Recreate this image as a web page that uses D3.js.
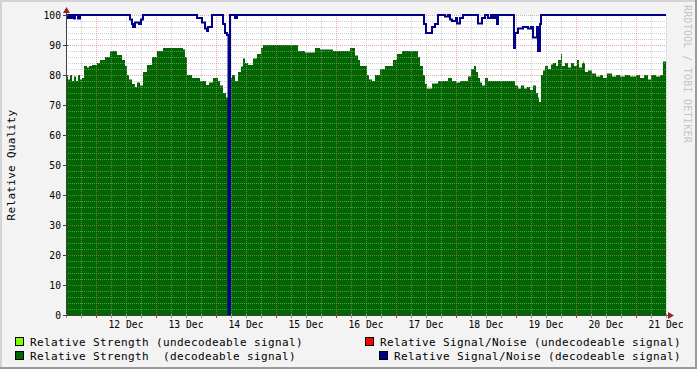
<!DOCTYPE html>
<html><head><meta charset="utf-8">
<script src="https://cdn.jsdelivr.net/npm/d3@7"></script>
<style>
html,body{margin:0;padding:0;background:#f3f3f3;}
svg{display:block;}
text{font-family:"DejaVu Sans Mono",monospace;}
</style></head>
<body>
<script>
// ---- data (hours since start of window, 11 Dec 12:00) ----
const startTime = Date.UTC(2008, 11, 11, 12, 0);
const windowHours = 240;
const dayLabels = ["12 Dec","13 Dec","14 Dec","15 Dec","16 Dec","17 Dec","18 Dec","19 Dec","20 Dec","21 Dec"];
const yTicks = [0,10,20,30,40,50,60,70,80,90,100];

// Relative Strength (decodeable signal)
const strengthHours = [0,0.8,1.6,2.4,3.2,4.0,4.8,5.6,6.4,7.2,8.4,9.2,10.4,12.4,13.6,15.6,17.6,20.4,22.4,23.6,24.4,25.2,26.4,27.6,28.4,29.6,30.8,32.4,34.4,36.4,38.8,46.8,47.6,48.4,50.4,53.6,56,57.2,58.8,60.8,61.6,62.8,64,64.8,65.6,66.4,67.6,68.8,70,70.8,71.6,72.8,74.8,76.4,78,78.8,92.8,95.6,99.6,101.6,106.8,113.6,115.6,116.8,117.6,120.4,121.2,122.4,123.6,125.6,127.6,130.8,132.4,134.4,140.8,141.6,142.8,143.6,144.4,146.4,148.8,152.8,154.4,156,157.6,160.8,162,163.2,164,164.8,165.6,166.4,167.6,168.8,179.6,180.8,182,183.2,184.4,185.6,186.8,188,188.8,189.2,190,190.8,191.6,192.8,194,194.8,196,196.8,198,198.4,199.6,200.8,202,203.2,204.4,205.2,206.4,207.6,208.8,210.4,212,213.6,214.8,216.4,218.4,220,221.6,223.6,225.6,228,229.6,231.2,232.8,234,236,237.6,238.8];
const strengthValues = [79.5,78.5,80,78,79.5,78,80,78.5,79,83,82.5,83,83.3,84,85,86,88,86.7,85,83,80,78.5,77,76,77.5,76.5,81,83.3,86,88,89,88.5,86,80,79,78,76.7,77.5,79,78,76.5,74,72.5,73,79,80,78,81,82.8,85.5,84,83.3,85.5,87,89,90,88,87.5,89,88.5,88,89,86.5,85,83,80,78.5,78,80,82,83,85,87,88,86,83,80,77,75.5,77.2,78,79,78,77.5,78,79.5,82,83,81,79,77.5,76.5,79,78,76.5,75.5,76.5,75.5,76,75,76.5,74,72.5,71,80,81.5,83,82,83.5,84,83,85,87,83,84,82.5,84,83,85,82.5,84,81,81.5,80.5,79.5,80,79,80.5,79.5,80,79.5,80,79.5,80,79,80,78.5,80,79.5,80,84.5];

// Relative Strength (undecodeable signal) - a few tiny samples, stacked on top
const weakHours = [144.8, 206.8];
const weakValues = [0.7, 0.7];

// Relative Signal/Noise (decodeable signal)
const snrHours = [0,0.8,1.6,2.4,3.2,3.6,4.8,5.6,25.6,26.4,26.8,27.6,29.2,30,30.8,52.4,54.4,55.6,56.4,56.8,58.4,62.8,63.6,64.4,65,65.6,67.6,68.4,143.2,144,146.4,147.6,148.8,151.6,152.8,153.6,154.4,156,156.4,157.6,158.8,164.8,166.4,167.6,168.8,170,170.8,171.6,172.4,172.8,179.2,179.6,180.8,182.8,184.8,186,186.8,188.4,188.8,189.6,190];
const snrValues = [99,100,99,100,98.8,100,98.8,100,98.5,97,96,97.5,97,98.5,100,99,97.5,95.5,94.7,96,100,97,94,93.3,0,100,99,100,97,94,96,97,100,99.5,100,98.5,98,99,97.2,99,100,97.2,99,100,99,100,99,100,97,100,89,94,95.5,96,95.5,96,92.5,96,88,97,100];

const legendItems = [
  {label:"Relative Strength (undecodeable signal)", color:"#80ff00", col:0, row:0},
  {label:"Relative Signal/Noise (undecodeable signal)", color:"#ff0000", col:1, row:0},
  {label:"Relative Strength  (decodeable signal)", color:"#006600", col:0, row:1},
  {label:"Relative Signal/Noise (decodeable signal)", color:"#000088", col:2, row:1}
];

// ---- drawing ----
const W = 697, H = 369;
const svg = d3.select("body").append("svg").attr("width", W).attr("height", H);
svg.append("rect").attr("width", W).attr("height", H).attr("fill", "#f3f3f3");
svg.append("rect").attr("x",0).attr("y",0).attr("width",W).attr("height",2).attr("fill","#d4d4d4");
svg.append("rect").attr("x",0).attr("y",0).attr("width",2).attr("height",H).attr("fill","#d4d4d4");
svg.append("rect").attr("x",0).attr("y",H-2).attr("width",W).attr("height",2).attr("fill","#9a9a9a");
svg.append("rect").attr("x",W-2).attr("y",0).attr("width",2).attr("height",H).attr("fill","#9a9a9a");

const t0 = new Date(startTime), t1 = new Date(startTime + windowHours*3600e3);
const hToDate = h => new Date(startTime + h*3600e3);
const x = d3.scaleUtc().domain([t0, t1]).range([66, 666]);
const y = d3.scaleLinear().domain([0, 100]).range([315, 15]);

svg.append("rect").attr("x",66).attr("y",15).attr("width",600).attr("height",300).attr("fill","#ffffff");

const strength = strengthHours.map((h,i)=>({t:hToDate(h), v:strengthValues[i]}));
strength.push({t:t1, v:strengthValues[strengthValues.length-1]});
const snr = snrHours.map((h,i)=>({t:hToDate(h), v:snrValues[i]}));
snr.push({t:t1, v:snrValues[snrValues.length-1]});

const area = d3.area().curve(d3.curveStepAfter).x(d=>x(d.t)).y0(y(0)).y1(d=>y(d.v));
svg.append("path").datum(strength).attr("d", area).attr("fill", "#006600");

// undecodeable samples stacked on top of the strength area
const baseAt = h => { let v = strengthValues[0]; strengthHours.forEach((s,i)=>{ if (s<=h) v = strengthValues[i]; }); return v; };
weakHours.forEach((h,i)=>{
  const a = x(hToDate(h)), b = x(hToDate(h+0.4));
  const base = baseAt(h);
  svg.append("rect").attr("x",a).attr("y",y(base+weakValues[i])).attr("width",b-a)
    .attr("height",y(base)-y(base+weakValues[i])).attr("fill","#80ff00");
});

// grid on top
const g = svg.append("g");
const minorX = x.ticks(d3.utcHour.every(6)).filter(d=>d.getUTCHours()!==0);
const majorX = x.ticks(d3.utcDay.every(1));
minorX.forEach(d=>{
  g.append("line").attr("x1",Math.round(x(d))+0.5).attr("x2",Math.round(x(d))+0.5).attr("y1",15).attr("y2",315)
   .attr("stroke","rgba(170,170,170,0.55)").attr("stroke-dasharray","1,1");
});
d3.range(0,101,2).filter(v=>v%10!==0).forEach(v=>{
  g.append("line").attr("x1",66).attr("x2",666).attr("y1",Math.round(y(v))+0.5).attr("y2",Math.round(y(v))+0.5)
   .attr("stroke","rgba(170,170,170,0.55)").attr("stroke-dasharray","1,1");
});
majorX.forEach(d=>{
  g.append("line").attr("x1",Math.round(x(d))+0.5).attr("x2",Math.round(x(d))+0.5).attr("y1",15).attr("y2",315)
   .attr("stroke","rgba(220,110,110,0.6)").attr("stroke-dasharray","1,1");
});
yTicks.forEach(v=>{
  g.append("line").attr("x1",66).attr("x2",666).attr("y1",Math.round(y(v))+0.5).attr("y2",Math.round(y(v))+0.5)
   .attr("stroke","rgba(220,110,110,0.6)").attr("stroke-dasharray","1,1");
});

// SNR line
const line = d3.line().curve(d3.curveStepAfter).x(d=>x(d.t)).y(d=>y(d.v));
svg.append("path").datum(snr).attr("d", line).attr("fill","none").attr("stroke","#000088").attr("stroke-width",2);

// axes
const ax = svg.append("g");
ax.append("line").attr("x1",66.5).attr("x2",66.5).attr("y1",315).attr("y2",11).attr("stroke","#404040");
ax.append("line").attr("x1",66).attr("x2",669).attr("y1",315.5).attr("y2",315.5).attr("stroke","#404040");
ax.append("path").attr("d","M63,13 L70,13 L66.5,7 Z").attr("fill","#a02020");
ax.append("path").attr("d","M668,312 L668,319 L674,315.5 Z").attr("fill","#a02020");
minorX.forEach(d=>{
  ax.append("line").attr("x1",Math.round(x(d))+0.5).attr("x2",Math.round(x(d))+0.5).attr("y1",314).attr("y2",318).attr("stroke","#909090");
});
majorX.forEach(d=>{
  ax.append("line").attr("x1",Math.round(x(d))+0.5).attr("x2",Math.round(x(d))+0.5).attr("y1",314).attr("y2",318).attr("stroke","#c03030");
});
yTicks.forEach(v=>{
  ax.append("line").attr("x1",63).attr("x2",68).attr("y1",Math.round(y(v))+0.5).attr("y2",Math.round(y(v))+0.5).attr("stroke","#404040");
  ax.append("text").attr("x",61).attr("y",y(v)+3.5).attr("text-anchor","end")
    .attr("font-size","9.7px").attr("fill","#000").text(v);
});
const noons = majorX.map(d=>new Date(+d + 12*3600e3));
noons.forEach((d,i)=>{
  if (i < dayLabels.length)
  ax.append("text").attr("x",x(d)).attr("y",328).attr("text-anchor","middle")
    .attr("font-size","9.7px").attr("fill","#000").text(dayLabels[i]);
});

svg.append("text").attr("transform","translate(15,165) rotate(-90)").attr("text-anchor","middle")
  .attr("font-size","11px").attr("letter-spacing","0.3px").attr("fill","#000").text("Relative Quality");

svg.append("text").attr("transform","translate(684,5) rotate(90)").attr("text-anchor","start")
  .attr("font-size","10px").attr("letter-spacing","0.25px").attr("fill","#c4c4c4").text("RRDTOOL / TOBI OETIKER");

const colX = [15, 365, 379];
const rowY = [337, 351];
legendItems.forEach(it=>{
  const lx = colX[it.col], ly = rowY[it.row];
  svg.append("rect").attr("x",lx+0.5).attr("y",ly+0.5).attr("width",8).attr("height",8)
    .attr("fill",it.color).attr("stroke","#000").attr("stroke-width",1);
  svg.append("text").attr("x",lx+15).attr("y",ly+8.5).attr("font-size","11px").attr("letter-spacing","0.38px")
    .attr("fill","#000").attr("xml:space","preserve").style("white-space","pre").text(it.label);
});
</script>
</body></html>
